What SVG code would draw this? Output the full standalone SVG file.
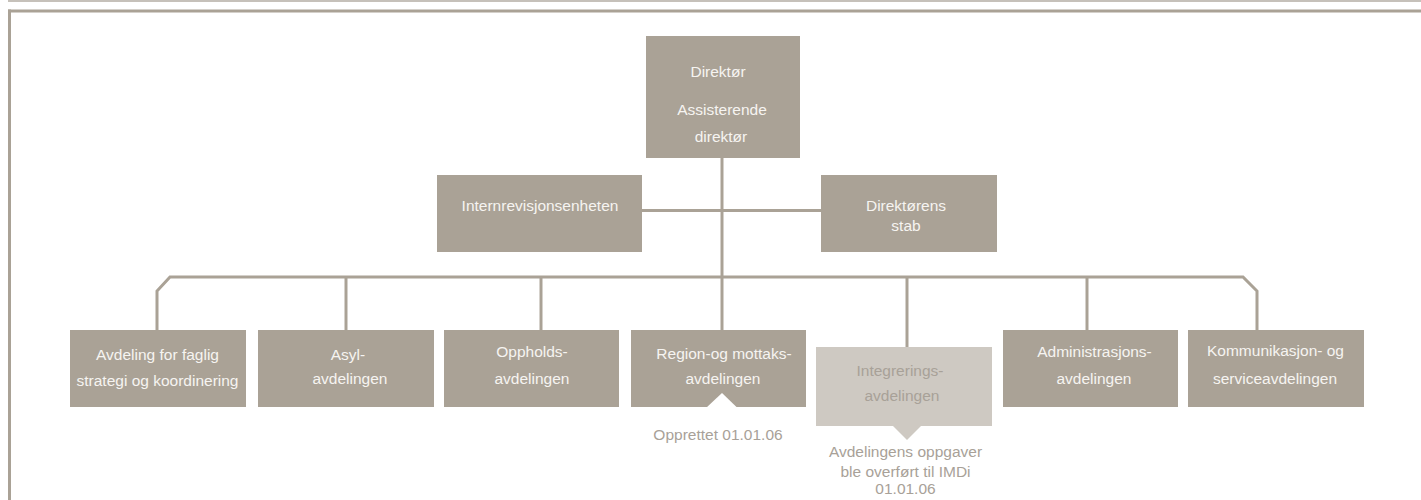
<svg xmlns="http://www.w3.org/2000/svg" width="1421" height="500" viewBox="0 0 1421 500">
<style>
.box{fill:#aaa296;}
.lbox{fill:#cec9c2;}
.t{font-family:"Liberation Sans",Arial,sans-serif;font-size:15.5px;fill:#f6f4f1;text-anchor:middle;}
.lt{font-family:"Liberation Sans",Arial,sans-serif;font-size:15.5px;fill:#a8a198;text-anchor:middle;}
.ln{stroke:#aaa296;stroke-width:3;fill:none;}
</style>
<rect width="1421" height="500" fill="#ffffff"/>
<g id="frame">
<line x1="8" y1="1" x2="1421" y2="1" stroke="#b3ada3" stroke-width="1.5"/>
<line x1="8" y1="11" x2="1421" y2="11" stroke="#aaa296" stroke-width="3"/>
<line x1="9.5" y1="9.5" x2="9.5" y2="500" stroke="#aaa296" stroke-width="3"/>
</g>
<g id="connectors">
<line class="ln" x1="722" y1="158" x2="722" y2="330"/>
<line class="ln" x1="641" y1="210.5" x2="821" y2="210.5"/>
<path class="ln" d="M157,330 V291 L170,277 H1243 L1257,291 V330"/>
<line class="ln" x1="346" y1="277" x2="346" y2="330"/>
<line class="ln" x1="541" y1="277" x2="541" y2="330"/>
<line class="ln" x1="907" y1="277" x2="907" y2="347"/>
<line class="ln" x1="1087" y1="277" x2="1087" y2="330"/>
</g>
<g id="direktor">
<rect class="box" x="646" y="36" width="154" height="122"/>
<text class="t" x="718" y="77">Direktør</text>
<text class="t" x="722" y="115">Assisterende</text>
<text class="t" x="721" y="142">direktør</text>
</g>
<g id="internrevisjon">
<rect class="box" x="437" y="175" width="205" height="77"/>
<text class="t" x="540" y="210.5">Internrevisjonsenheten</text>
</g>
<g id="stab">
<rect class="box" x="821" y="175" width="176" height="77"/>
<text class="t" x="906" y="210.5">Direktørens</text>
<text class="t" x="906" y="230.5">stab</text>
</g>
<g id="faglig">
<rect class="box" x="70" y="330" width="176" height="77"/>
<text class="t" x="157.5" y="360">Avdeling for faglig</text>
<text class="t" x="157.5" y="385.5">strategi og koordinering</text>
</g>
<g id="asyl">
<rect class="box" x="258" y="330" width="176" height="77"/>
<text class="t" x="348" y="360">Asyl-</text>
<text class="t" x="350" y="384">avdelingen</text>
</g>
<g id="oppholds">
<rect class="box" x="444" y="330" width="175" height="77"/>
<text class="t" x="532" y="357">Oppholds-</text>
<text class="t" x="532" y="384">avdelingen</text>
</g>
<g id="region">
<rect class="box" x="631" y="330" width="175" height="77"/>
<text class="t" x="724" y="359">Region-og mottaks-</text>
<text class="t" x="723" y="384">avdelingen</text>
<polygon points="706.5,407.5 737,407.5 722,393" fill="#ffffff"/>
<text class="lt" x="718" y="439.5">Opprettet 01.01.06</text>
</g>
<g id="integrering">
<rect class="lbox" x="816" y="347" width="176" height="79"/>
<polygon points="893,426 921,426 907,440" fill="#cec9c2"/>
<text class="lt" x="900" y="376">Integrerings-</text>
<text class="lt" x="902" y="401">avdelingen</text>
<text class="lt" x="905.5" y="457">Avdelingens oppgaver</text>
<text class="lt" x="905.5" y="477">ble overført til IMDi</text>
<text class="lt" x="905.5" y="494">01.01.06</text>
</g>
<g id="administrasjon">
<rect class="box" x="1003" y="330" width="175" height="77"/>
<text class="t" x="1094.5" y="357">Administrasjons-</text>
<text class="t" x="1094" y="384">avdelingen</text>
</g>
<g id="kommunikasjon">
<rect class="box" x="1188" y="330" width="176" height="77"/>
<text class="t" x="1275.5" y="356">Kommunikasjon- og</text>
<text class="t" x="1275" y="384">serviceavdelingen</text>
</g>
</svg>
